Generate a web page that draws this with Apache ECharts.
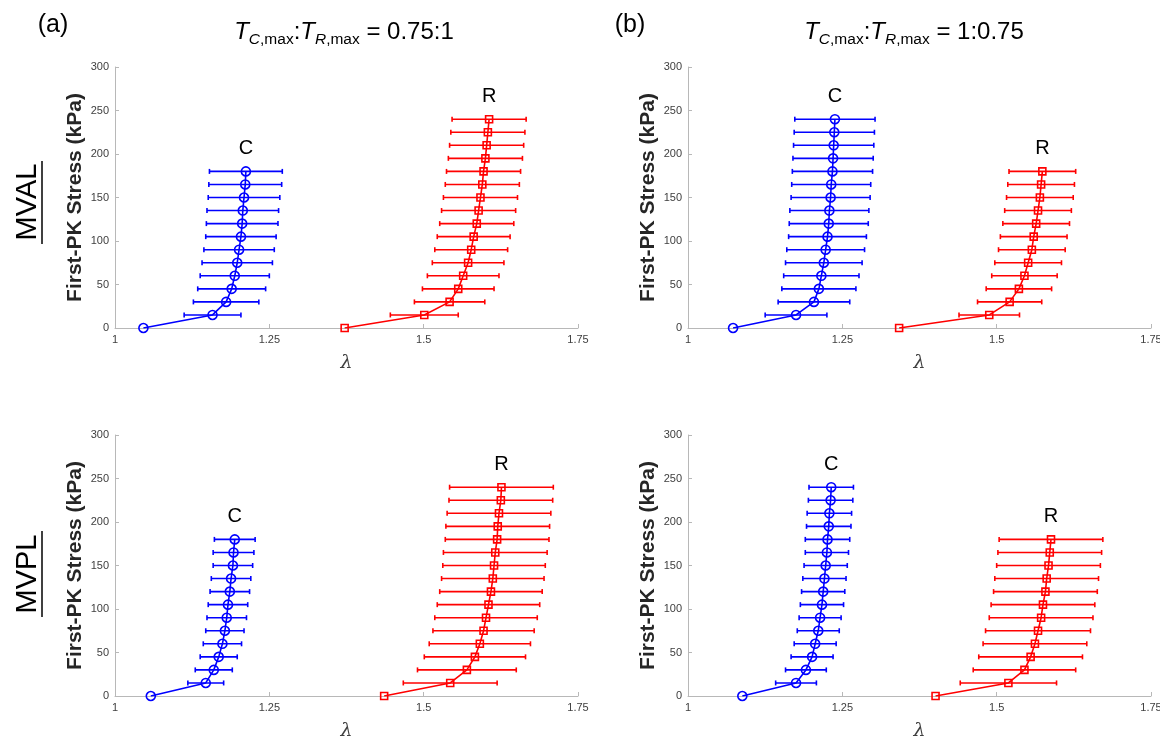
<!DOCTYPE html>
<html>
<head>
<meta charset="utf-8">
<script src="https://cdn.jsdelivr.net/npm/echarts@6/dist/echarts.min.js"></script>
<style>
  html, body { margin: 0; padding: 0; background: #ffffff; }
  #chart { width: 1160px; height: 738px; }
</style>
</head>
<body>
<div id="chart"></div>
<script>
// Stress levels (kPa)
const stress13 = [0, 15, 30, 45, 60, 75, 90, 105, 120, 135, 150, 165, 180];
const stress17 = [0, 15, 30, 45, 60, 75, 90, 105, 120, 135, 150, 165, 180, 195, 210, 225, 240];

// Axis ticks
const lambdaTicks = [1, 1.25, 1.5, 1.75];
const stressTicks = [0, 50, 100, 150, 200, 250, 300];

// MVAL, T_C,max:T_R,max = 0.75:1 — mean stretch and its standard deviation
const mvalA_C_mean = [1.046, 1.158, 1.180, 1.189, 1.194, 1.198, 1.201, 1.204, 1.206, 1.207, 1.209, 1.211, 1.212];
const mvalA_C_sd   = [0, 0.046, 0.053, 0.055, 0.056, 0.057, 0.057, 0.057, 0.058, 0.058, 0.058, 0.059, 0.059];
const mvalA_R_mean = [1.372, 1.501, 1.542, 1.556, 1.564, 1.572, 1.577, 1.581, 1.586, 1.589, 1.592, 1.595, 1.597, 1.600, 1.602, 1.604, 1.606];
const mvalA_R_sd   = [0, 0.055, 0.057, 0.058, 0.058, 0.058, 0.059, 0.059, 0.060, 0.060, 0.060, 0.060, 0.060, 0.060, 0.060, 0.060, 0.060];

// MVAL, T_C,max:T_R,max = 1:0.75
const mvalB_C_mean = [1.073, 1.175, 1.204, 1.212, 1.216, 1.220, 1.223, 1.226, 1.228, 1.229, 1.231, 1.232, 1.234, 1.235, 1.236, 1.237, 1.238];
const mvalB_C_sd   = [0, 0.050, 0.058, 0.060, 0.061, 0.062, 0.063, 0.063, 0.064, 0.064, 0.064, 0.064, 0.065, 0.065, 0.065, 0.065, 0.065];
const mvalB_R_mean = [1.342, 1.488, 1.521, 1.536, 1.545, 1.551, 1.557, 1.560, 1.564, 1.567, 1.570, 1.572, 1.574];
const mvalB_R_sd   = [0, 0.049, 0.052, 0.053, 0.053, 0.054, 0.054, 0.054, 0.054, 0.054, 0.054, 0.054, 0.054];

// MVPL, T_C,max:T_R,max = 0.75:1
const mvplA_C_mean = [1.058, 1.147, 1.160, 1.168, 1.174, 1.178, 1.181, 1.183, 1.186, 1.188, 1.191, 1.192, 1.194];
const mvplA_C_sd   = [0, 0.029, 0.030, 0.030, 0.031, 0.031, 0.032, 0.032, 0.032, 0.032, 0.032, 0.033, 0.033];
const mvplA_R_mean = [1.436, 1.543, 1.570, 1.583, 1.591, 1.597, 1.601, 1.605, 1.609, 1.612, 1.614, 1.616, 1.619, 1.620, 1.622, 1.625, 1.626];
const mvplA_R_sd   = [0, 0.076, 0.080, 0.082, 0.082, 0.082, 0.083, 0.083, 0.083, 0.083, 0.083, 0.084, 0.084, 0.084, 0.084, 0.084, 0.084];

// MVPL, T_C,max:T_R,max = 1:0.75
const mvplB_C_mean = [1.088, 1.175, 1.191, 1.201, 1.206, 1.211, 1.214, 1.217, 1.219, 1.221, 1.223, 1.225, 1.226, 1.228, 1.229, 1.231, 1.232];
const mvplB_C_sd   = [0, 0.033, 0.033, 0.034, 0.034, 0.034, 0.034, 0.035, 0.035, 0.035, 0.035, 0.035, 0.036, 0.036, 0.036, 0.036, 0.036];
const mvplB_R_mean = [1.401, 1.519, 1.545, 1.555, 1.562, 1.567, 1.572, 1.575, 1.579, 1.581, 1.584, 1.586, 1.588];
const mvplB_R_sd   = [0, 0.078, 0.083, 0.084, 0.084, 0.085, 0.084, 0.084, 0.084, 0.084, 0.084, 0.084, 0.084];

const BLUE = '#0000ff';
const RED = '#ff0000';
const AXIS_GREY = '#b8b8b8';
const TEXT_GREY = '#404040';
const FONT = '"Liberation Sans", Arial, Helvetica, sans-serif';

// Panel layout: [left, top] of each plotting box
const panels = [
  { box: [115, 67],  C: [mvalA_C_mean, mvalA_C_sd, stress13], R: [mvalA_R_mean, mvalA_R_sd, stress17] },
  { box: [688, 67],  C: [mvalB_C_mean, mvalB_C_sd, stress17], R: [mvalB_R_mean, mvalB_R_sd, stress13] },
  { box: [115, 435], C: [mvplA_C_mean, mvplA_C_sd, stress13], R: [mvplA_R_mean, mvplA_R_sd, stress17] },
  { box: [688, 435], C: [mvplB_C_mean, mvplB_C_sd, stress17], R: [mvplB_R_mean, mvplB_R_sd, stress13] }
];
const BOX_W = 463, BOX_H = 261;

const grids = [], xAxes = [], yAxes = [], series = [];

function errorBarSeries(idx, mean, sd, stress, color) {
  const data = [];
  for (let i = 0; i < mean.length; i++) {
    if (sd[i] > 0) data.push([mean[i], stress[i], mean[i] - sd[i], mean[i] + sd[i]]);
  }
  return {
    type: 'custom',
    xAxisIndex: idx, yAxisIndex: idx,
    z: 4,
    silent: true,
    encode: { x: [0, 2, 3], y: 1 },
    data: data,
    renderItem: function (params, api) {
      const y = api.value(1);
      const a = api.coord([api.value(2), y]);
      const b = api.coord([api.value(3), y]);
      const cap = 2.5;
      const st = { stroke: color, lineWidth: 1.6 };
      return {
        type: 'group',
        children: [
          { type: 'line', shape: { x1: a[0], y1: a[1], x2: b[0], y2: b[1] }, style: st },
          { type: 'line', shape: { x1: a[0], y1: a[1] - cap, x2: a[0], y2: a[1] + cap }, style: st },
          { type: 'line', shape: { x1: b[0], y1: b[1] - cap, x2: b[0], y2: b[1] + cap }, style: st }
        ]
      };
    }
  };
}

function meanSeries(idx, mean, stress, color, symbol, size, tag) {
  const pts = mean.map((m, i) => [m, stress[i]]);
  const last = pts[pts.length - 1];
  return {
    type: 'line',
    xAxisIndex: idx, yAxisIndex: idx,
    z: 3,
    data: pts,
    symbol: symbol,
    symbolSize: size,
    showAllSymbol: true,
    lineStyle: { color: color, width: 1.6 },
    itemStyle: { color: 'rgba(0,0,0,0)', borderColor: color, borderWidth: 1.6 },
    emphasis: { disabled: true },
    markPoint: {
      symbol: 'circle',
      symbolSize: 0,
      silent: true,
      data: [{ coord: last, value: tag }],
      label: {
        show: true,
        formatter: tag,
        position: 'inside',
        offset: [0, -23],
        fontFamily: FONT,
        fontSize: 20,
        color: '#000000'
      }
    }
  };
}

panels.forEach((p, idx) => {
  grids.push({ left: p.box[0], top: p.box[1], width: BOX_W, height: BOX_H, containLabel: false, outerBoundsMode: 'none' });
  xAxes.push({
    type: 'value', gridIndex: idx,
    min: lambdaTicks[0], max: lambdaTicks[lambdaTicks.length - 1], interval: 0.25,
    name: 'λ', nameLocation: 'middle', nameGap: 26,
    nameTextStyle: { fontFamily: '"DejaVu Serif", "Liberation Serif", serif', fontStyle: 'italic', fontSize: 19, color: TEXT_GREY },
    axisLine: { show: true, lineStyle: { color: AXIS_GREY, width: 1 } },
    axisTick: { show: true, inside: true, length: 4, lineStyle: { color: AXIS_GREY } },
    axisLabel: { fontFamily: FONT, fontSize: 11, color: TEXT_GREY, margin: 6, showMaxLabel: true, showMinLabel: true },
    splitLine: { show: false }
  });
  yAxes.push({
    type: 'value', gridIndex: idx,
    min: stressTicks[0], max: stressTicks[stressTicks.length - 1], interval: 50,
    name: 'First-PK Stress (kPa)', nameLocation: 'middle', nameGap: 29,
    nameTextStyle: { fontFamily: FONT, fontWeight: 'bold', fontSize: 21, color: '#262626' },
    axisLine: { show: true, lineStyle: { color: AXIS_GREY, width: 1 } },
    axisTick: { show: true, inside: true, length: 4, lineStyle: { color: AXIS_GREY } },
    axisLabel: { fontFamily: FONT, fontSize: 11, color: TEXT_GREY, margin: 6 },
    splitLine: { show: false }
  });
  series.push(meanSeries(idx, p.C[0], p.C[2], BLUE, 'circle', 9, 'C'));
  series.push(errorBarSeries(idx, p.C[0], p.C[1], p.C[2], BLUE));
  series.push(meanSeries(idx, p.R[0], p.R[2], RED, 'rect', 7, 'R'));
  series.push(errorBarSeries(idx, p.R[0], p.R[1], p.R[2], RED));
});

// Column titles with italic symbols and subscripts
const titleRich = {
  ti: { fontFamily: FONT, fontStyle: 'italic', fontSize: 24, lineHeight: 32, verticalAlign: 'middle', color: '#000' },
  n:  { fontFamily: FONT, fontSize: 24, lineHeight: 32, verticalAlign: 'middle', color: '#000' },
  si: { fontFamily: FONT, fontStyle: 'italic', fontSize: 15.5, lineHeight: 14, verticalAlign: 'bottom', color: '#000' },
  sn: { fontFamily: FONT, fontSize: 15.5, lineHeight: 14, verticalAlign: 'bottom', color: '#000' }
};
function titleText(ratio) {
  return '{ti|T}{si|C}{sn|,max}{n|:}{ti|T}{si|R}{sn|,max}{n| = ' + ratio + '}';
}

const graphic = [
  { type: 'text', x: 53, y: 25, style: { text: '(a)', font: '25px ' + FONT, fill: '#000', align: 'center', verticalAlign: 'middle' } },
  { type: 'text', x: 630, y: 25, style: { text: '(b)', font: '25px ' + FONT, fill: '#000', align: 'center', verticalAlign: 'middle' } },
  { type: 'text', x: 344, y: 32, style: { text: titleText('0.75:1'), rich: titleRich, align: 'center', verticalAlign: 'middle' } },
  { type: 'text', x: 914, y: 32, style: { text: titleText('1:0.75'), rich: titleRich, align: 'center', verticalAlign: 'middle' } },
  { type: 'text', x: 28, y: 202, rotation: Math.PI / 2, style: { text: 'MVAL', font: '29px ' + FONT, fill: '#000', align: 'center', verticalAlign: 'middle' } },
  { type: 'line', shape: { x1: 42, y1: 161, x2: 42, y2: 244 }, style: { stroke: '#000', lineWidth: 1.5 } },
  { type: 'text', x: 28, y: 574, rotation: Math.PI / 2, style: { text: 'MVPL', font: '29px ' + FONT, fill: '#000', align: 'center', verticalAlign: 'middle' } },
  { type: 'line', shape: { x1: 42, y1: 531, x2: 42, y2: 617 }, style: { stroke: '#000', lineWidth: 1.5 } }
];

const chart = echarts.init(document.getElementById('chart'), null, { renderer: 'canvas' });
chart.setOption({
  backgroundColor: '#ffffff',
  animation: false,
  grid: grids,
  xAxis: xAxes,
  yAxis: yAxes,
  series: series,
  graphic: graphic
});
</script>
</body>
</html>
